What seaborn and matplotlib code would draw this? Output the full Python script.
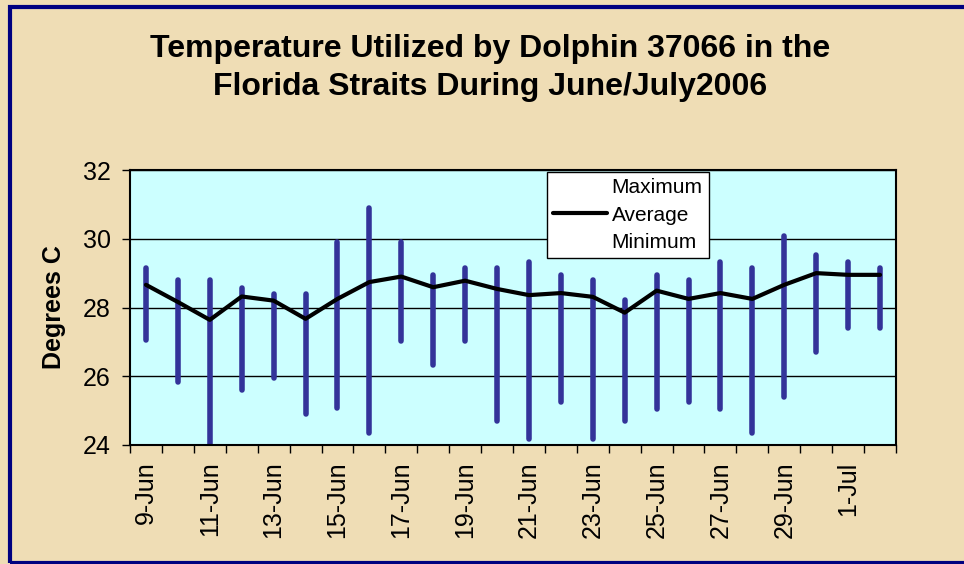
import pandas as pd
import matplotlib.pyplot as plt
import seaborn as sns
from matplotlib.lines import Line2D
from matplotlib.patches import Rectangle

days = ['9-Jun', '10-Jun', '11-Jun', '12-Jun', '13-Jun', '14-Jun', '15-Jun', '16-Jun',
        '17-Jun', '18-Jun', '19-Jun', '20-Jun', '21-Jun', '22-Jun', '23-Jun', '24-Jun',
        '25-Jun', '26-Jun', '27-Jun', '28-Jun', '29-Jun', '30-Jun', '1-Jul', '2-Jul']
maximum = [29.15, 28.81, 28.81, 28.56, 28.40, 28.40, 29.90, 30.90, 29.92, 28.96, 29.15, 29.15,
           29.32, 28.96, 28.80, 28.21, 28.96, 28.80, 29.32, 29.15, 30.07, 29.54, 29.32, 29.15]
average = [28.66, 28.16, 27.64, 28.32, 28.20, 27.67, 28.25, 28.74, 28.90, 28.59, 28.78, 28.54,
           28.36, 28.42, 28.31, 27.85, 28.49, 28.25, 28.42, 28.25, 28.66, 29.00, 28.95, 28.95]
minimum = [27.06, 25.84, 24.00, 25.60, 25.95, 24.90, 25.07, 24.36, 27.04, 26.34, 27.04, 24.71,
           24.18, 25.24, 24.18, 24.71, 25.05, 25.24, 25.05, 24.36, 25.41, 26.70, 27.40, 27.40]

df = pd.DataFrame({'day': range(len(days)), 'label': days,
                   'Maximum': maximum, 'Average': average, 'Minimum': minimum})
# long form for the high-low lines: one unit per day
hl = df.melt(id_vars='day', value_vars=['Minimum', 'Maximum'], value_name='temp')

sns.set_style('white')
plt.rcParams['font.family'] = ['Liberation Sans', 'DejaVu Sans']
plt.rcParams['text.color'] = 'black'
plt.rcParams['xtick.color'] = 'black'
plt.rcParams['ytick.color'] = 'black'
plt.rcParams['axes.labelcolor'] = 'black'

W, H = 964, 564
fig = plt.figure(figsize=(W / 100, H / 100), dpi=100, facecolor='#EFDDB5')
ax = fig.add_axes([130 / W, 1 - 445 / H, 766 / W, 275 / H])
ax.set_facecolor('#CCFFFF')

sns.lineplot(data=hl, x='day', y='temp', units='day', estimator=None, sort=False,
             color='#333399', lw=4, ax=ax, legend=False)
sns.lineplot(data=df, x='day', y='Average', color='black', lw=3, ax=ax, legend=False)

ax.set_xlim(-0.5, len(days) - 0.5)
ax.set_ylim(24, 32)
ax.set_yticks([24, 26, 28, 30, 32])
ax.grid(axis='y', color='black', lw=1)
ax.set_axisbelow(True)

ax.set_xticks(df['day'][::2])
ax.set_xticklabels(df['label'][::2], rotation=90)
ax.set_xticks([i - 0.5 for i in range(len(days) + 1)], minor=True)
ax.tick_params(axis='x', which='major', length=0, pad=12, labelsize=18)
ax.tick_params(axis='x', which='minor', length=6, width=1, direction='out', bottom=True)
ax.tick_params(axis='y', length=6, width=1, direction='out', left=True, pad=8, labelsize=18)
for s in ax.spines.values():
    s.set_color('black')
    s.set_linewidth(1.5)

ax.set_xlabel('')
ax.set_ylabel('Degrees C', fontsize=18, fontweight='bold', labelpad=12)

fig.text(490 / W, 1 - 68 / H,
         'Temperature Utilized by Dolphin 37066 in the\nFlorida Straits During June/July2006',
         ha='center', va='center', fontsize=23, fontweight='bold', linespacing=1.35)

handles = [Line2D([], [], color='none'),
           Line2D([], [], color='black', lw=3),
           Line2D([], [], color='none')]
leg = fig.legend(handles, ['Maximum', 'Average', 'Minimum'], loc='upper left',
                 bbox_to_anchor=(547 / W, 1 - 172 / H), bbox_transform=fig.transFigure,
                 borderaxespad=0, fontsize=15, handlelength=2.6, handletextpad=0.2,
                 labelspacing=0.4, frameon=True, fancybox=False, borderpad=0.3)
leg.get_frame().set_edgecolor('black')
leg.get_frame().set_linewidth(1)
leg.get_frame().set_facecolor('white')
leg.get_frame().set_alpha(1)

# navy frame around the chart area
fig.patches.append(Rectangle((9.5 / W, 1 - 563 / H), 980 / W, (563 - 7) / H,
                             transform=fig.transFigure, fill=False,
                             edgecolor='#000080', lw=3, zorder=0))

fig.savefig('out.png', dpi=100, facecolor=fig.get_facecolor())
